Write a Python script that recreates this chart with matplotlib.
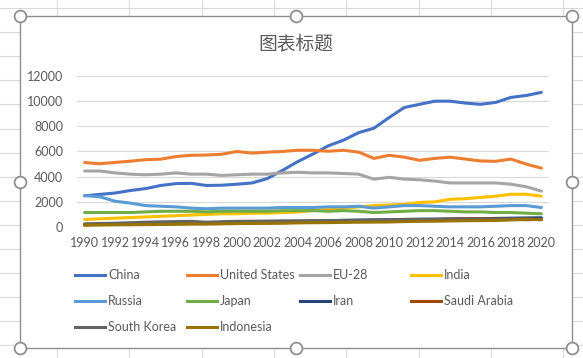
import matplotlib.pyplot as plt
from matplotlib.lines import Line2D
from matplotlib.patches import Rectangle

# Dataset (CO2 emissions, Mt)
years = list(range(1990, 2021))
countries = ['China', 'United States', 'EU-28', 'India', 'Russia', 'Japan',
             'Iran', 'Saudi Arabia', 'South Korea', 'Indonesia']
china = [2480, 2590, 2700, 2900, 3050, 3300, 3450, 3470, 3300, 3320, 3400,
         3500, 3850, 4500, 5200, 5800, 6450, 6900, 7500, 7850, 8700,
         9500, 9750, 10000, 10000, 9850, 9750, 9900, 10300, 10450, 10700]
usa = [5120, 5030, 5130, 5230, 5350, 5390, 5600, 5700, 5720, 5780, 6000,
       5870, 5950, 6000, 6100, 6100, 6020, 6100, 5950, 5450, 5700,
       5550, 5300, 5450, 5550, 5400, 5250, 5220, 5400, 5000, 4680]
eu28 = [4450, 4450, 4300, 4200, 4150, 4200, 4300, 4200, 4200, 4100, 4150,
        4200, 4200, 4300, 4350, 4300, 4300, 4250, 4200, 3800, 3950,
        3800, 3750, 3650, 3500, 3500, 3500, 3500, 3400, 3200, 2850]
india = [600, 650, 700, 750, 800, 850, 900, 950, 1000, 1050, 1050,
         1100, 1100, 1150, 1200, 1300, 1400, 1500, 1600, 1700, 1750,
         1800, 1950, 2000, 2200, 2250, 2350, 2450, 2600, 2600, 2450]
russia = [2500, 2400, 2050, 1900, 1700, 1650, 1600, 1500, 1450, 1500, 1500,
          1500, 1500, 1550, 1550, 1550, 1600, 1600, 1650, 1500, 1600,
          1700, 1700, 1650, 1600, 1600, 1600, 1650, 1700, 1700, 1550]
japan = [1150, 1150, 1150, 1150, 1200, 1250, 1250, 1250, 1200, 1250, 1250,
         1250, 1250, 1300, 1300, 1300, 1250, 1300, 1250, 1150, 1200,
         1250, 1300, 1300, 1250, 1200, 1200, 1150, 1150, 1100, 1050]
iran = [200, 220, 240, 260, 280, 290, 300, 310, 320, 340, 350,
        370, 400, 420, 450, 480, 500, 530, 550, 570, 580,
        600, 620, 630, 650, 650, 660, 680, 700, 720, 730]
saudi = [150, 200, 220, 230, 240, 240, 250, 260, 270, 280, 290,
         300, 310, 330, 360, 380, 400, 420, 450, 480, 520,
         540, 580, 590, 620, 640, 650, 630, 600, 580, 600]
korea = [250, 280, 300, 340, 380, 410, 430, 450, 380, 420, 450,
         460, 470, 490, 490, 500, 500, 520, 530, 530, 580,
         600, 600, 600, 600, 610, 620, 630, 650, 620, 580]
indonesia = [150, 160, 170, 180, 190, 200, 220, 240, 230, 250, 270,
             290, 300, 310, 330, 340, 350, 370, 380, 390, 400,
             430, 450, 460, 480, 500, 510, 520, 560, 620, 590]
series = [china, usa, eu28, india, russia, japan, iran, saudi, korea, indonesia]
colors = ['#4472C4', '#ED7D31', '#A5A5A5', '#FFC000', '#5B9BD5',
          '#70AD47', '#264478', '#9E480E', '#636363', '#997300']

W, H = 583, 358
txt = '#595959'
plt.rcParams['font.family'] = ['Lato', 'DejaVu Sans']


def px(x, y):
    # pixel position -> figure fraction
    return x / W, 1 - y / H


fig = plt.figure(figsize=(W / 100, H / 100), dpi=100)

# spreadsheet grid behind the chart
for k in range(15):
    y = 8 + 24.1 * k
    fig.add_artist(Line2D([0, 1], [1 - y / H] * 2, color='#dadada', lw=0.8, zorder=0))
for k in range(9):
    x = 57 + 72.3 * k
    fig.add_artist(Line2D([x / W] * 2, [0, 1], color='#dadada', lw=0.8, zorder=0))

# chart area with border
x0, y0 = px(20, 348)
x1, y1 = px(572, 16)
fig.add_artist(Rectangle((x0, y0), x1 - x0, y1 - y0, transform=fig.transFigure,
                         facecolor='white', edgecolor='#8f8f8f', lw=1.0, zorder=1))

# plot area
ax = fig.add_axes([77 / W, 1 - 227 / H, (549 - 77) / W, (227 - 76) / H], zorder=2)
ax.patch.set_alpha(0)
for s, c in zip(series, colors):
    ax.plot(years, s, color=c, lw=2.2, solid_capstyle='round', solid_joinstyle='round')

ax.set_xlim(1989.5, 2020.5)
ax.set_ylim(0, 12000)
ax.set_xticks(years[::2])
ax.set_yticks(range(0, 12001, 2000))
ax.grid(axis='y', color='#d9d9d9', lw=0.8)
ax.set_axisbelow(True)
ax.tick_params(length=0, labelsize=9, labelcolor=txt)
ax.tick_params(axis='x', pad=7)
ax.tick_params(axis='y', pad=10)
for spine in ax.spines.values():
    spine.set_visible(False)

fig.text(296 / W, 1 - 44 / H, '图表标题', ha='center', va='center', fontsize=13.5,
         color=txt, family=['Noto Sans CJK SC', 'DejaVu Sans'], zorder=3)

# legend, 4 equal columns like Excel
col_x = [75, 187, 300, 411]
row_y = [275, 301, 327]
for i, (name, c) in enumerate(zip(countries, colors)):
    lx = col_x[i % 4]
    ly = 1 - row_y[i // 4] / H
    fig.add_artist(Line2D([lx / W, (lx + 30) / W], [ly, ly], color=c, lw=2.2, zorder=3))
    fig.text((lx + 33) / W, ly, name, ha='left', va='center', fontsize=9, color=txt, zorder=3)

# selection handles
for hx, hy in [(20, 16), (296, 16), (572, 16), (20, 182), (572, 182),
               (20, 348), (296, 348), (572, 348)]:
    fx, fy = px(hx, hy)
    fig.add_artist(Line2D([fx], [fy], marker='o', markersize=8.5, mfc='white',
                          mec='#8f8f8f', mew=1.3, zorder=4))

fig.savefig('out.png', dpi=100)
